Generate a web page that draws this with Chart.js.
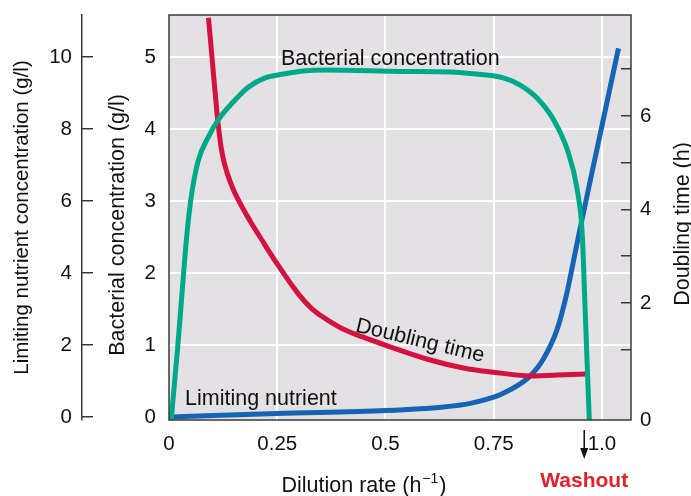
<!DOCTYPE html>
<html>
<head>
<meta charset="utf-8">
<script src="https://cdn.jsdelivr.net/npm/chart.js@4.4.0/dist/chart.umd.min.js"></script>
<style>
    html, body { margin: 0; padding: 0; background: #fff; }
    #wrap { width: 691px; height: 496px; }
</style>
</head>
<body>
<div id="wrap"><canvas id="chemostat" width="691" height="496"></canvas></div>
<script>
// Dilution rate (1/h) for each curve
const bacteriaRate = [0.005, 0.021, 0.033, 0.040, 0.050, 0.067, 0.091, 0.114, 0.146, 0.183, 0.222, 0.261, 0.315, 0.361, 0.534, 0.65, 0.695, 0.772, 0.811, 0.85, 0.888, 0.92, 0.943, 0.9545, 0.960, 0.9657, 0.9707];
const bacteriaConc = [-0.04, 1.03, 1.94, 2.45, 3.0, 3.55, 3.89, 4.13, 4.36, 4.58, 4.71, 4.76, 4.81, 4.82, 4.80, 4.79, 4.77, 4.71, 4.61, 4.43, 4.13, 3.71, 3.15, 2.53, 1.67, 0.75, -0.04];

const doublingRate = [0.0912, 0.0998, 0.1067, 0.1143, 0.1259, 0.146, 0.169, 0.1876, 0.2109, 0.2503, 0.2991, 0.3308, 0.3654, 0.407, 0.4486, 0.4994, 0.6034, 0.6796, 0.7489, 0.8344, 0.8968, 0.9637];
const doublingTime = [8.10, 7.20, 6.49, 5.76, 5.06, 4.48, 4.05, 3.75, 3.40, 2.83, 2.19, 1.87, 1.64, 1.42, 1.27, 1.10, 0.78, 0.61, 0.52, 0.44, 0.46, 0.48];

const nutrientRate = [0.003, 0.25, 0.50, 0.634, 0.696, 0.75, 0.772, 0.811, 0.834, 0.864, 0.896, 0.919, 0.934, 0.945, 0.99, 1.038];
const nutrientConc = [0, 0.10, 0.18, 0.28, 0.38, 0.55, 0.66, 0.92, 1.14, 1.60, 2.42, 3.45, 4.32, 4.98, 7.53, 10.24];

const rateTicks = [0, 0.25, 0.5, 0.75, 1.0];
const rateLabels = ["0", "0.25", "0.5", "0.75", "1.0"];
const bacteriaTicks = [0, 1, 2, 3, 4, 5];
const nutrientTicks = [0, 2, 4, 6, 8, 10];
const doublingTicks = [1, 2, 3, 4, 5, 6, 7];
const washoutRate = 0.959;

const FONT = "'Liberation Sans', Arial, Helvetica, sans-serif";
const TICK_SIZE = 20.5;
const TEXT_SIZE = 21.5;
const pairs = (xs, ys) => xs.map((x, i) => ({ x: x, y: ys[i] }));
const noPad = s => { s.paddingTop = 0; s.paddingBottom = 0; s.paddingLeft = 0; s.paddingRight = 0; };

function upText(ctx, text, x, y) {
    ctx.save();
    ctx.translate(x, y);
    ctx.rotate(-Math.PI / 2);
    ctx.textAlign = "center";
    ctx.textBaseline = "middle";
    ctx.fillText(text, 0, 0);
    ctx.restore();
}

// gray panel behind the grid, frame and annotations on top
const panel = {
    id: "panel",
    beforeDraw(chart) {
        const a = chart.chartArea, ctx = chart.ctx;
        ctx.save();
        ctx.fillStyle = "#e3e1e3";
        ctx.fillRect(a.left, a.top, a.right - a.left, a.bottom - a.top);
        ctx.restore();
    },
    afterDatasetsDraw(chart) {
        const a = chart.chartArea, ctx = chart.ctx;
        ctx.save();
        ctx.strokeStyle = "#3a3a3a";
        ctx.lineWidth = 1.5;
        ctx.strokeRect(a.left, a.top, a.right - a.left, a.bottom - a.top);

        ctx.fillStyle = "#111";
        ctx.font = TEXT_SIZE + "px " + FONT;
        ctx.textBaseline = "alphabetic";
        ctx.textAlign = "left";
        ctx.fillText("Bacterial concentration", 281, 65);
        ctx.fillText("Limiting nutrient", 185, 405);

        ctx.save();
        ctx.translate(420, 341);
        ctx.rotate(13.5 * Math.PI / 180);
        ctx.textAlign = "center";
        ctx.textBaseline = "middle";
        ctx.fillText("Doubling time", 0, 0);
        ctx.restore();

        // vertical axis titles, reading upwards
        upText(ctx, "Bacterial concentration (g/l)", 118, 225);
        upText(ctx, "Doubling time (h)", 683, 224);

        // x axis title with a raised exponent
        const main = "Dilution rate (h", sup = "\u22121", tail = ")";
        const supFont = "14px " + FONT, mainFont = TEXT_SIZE + "px " + FONT;
        ctx.font = mainFont;
        const wMain = ctx.measureText(main).width, wTail = ctx.measureText(tail).width;
        ctx.font = supFont;
        const wSup = ctx.measureText(sup).width;
        let tx = 364 - (wMain + wSup + wTail + 2) / 2;
        const base = 492;
        ctx.textAlign = "left";
        ctx.textBaseline = "alphabetic";
        ctx.font = mainFont;
        ctx.fillText(main, tx, base);
        tx += wMain + 1;
        ctx.font = supFont;
        ctx.fillText(sup, tx, base - 9);
        tx += wSup + 1;
        ctx.font = mainFont;
        ctx.fillText(tail, tx, base);

        // washout marker
        const wx = chart.scales.x.getPixelForValue(washoutRate);
        ctx.strokeStyle = "#111";
        ctx.lineWidth = 1.5;
        ctx.beginPath();
        ctx.moveTo(wx, 430);
        ctx.lineTo(wx, 452);
        ctx.stroke();
        ctx.beginPath();
        ctx.moveTo(wx - 4, 448);
        ctx.lineTo(wx, 459);
        ctx.lineTo(wx + 4, 448);
        ctx.closePath();
        ctx.fillStyle = "#111";
        ctx.fill();

        ctx.fillStyle = "#e8202a";
        ctx.font = "bold 21px " + FONT;
        ctx.textAlign = "center";
        ctx.textBaseline = "middle";
        ctx.fillText("Washout", wx, 481);
        ctx.restore();
    }
};

const ctx = document.getElementById("chemostat").getContext("2d");
new Chart(ctx, {
    type: "line",
    data: {
        datasets: [{
            label: "Bacterial concentration",
            data: pairs(bacteriaRate, bacteriaConc),
            yAxisID: "yBact",
            borderColor: "#00a98a",
            borderWidth: 5,
            cubicInterpolationMode: "monotone",
            pointRadius: 0
        }, {
            label: "Doubling time",
            data: pairs(doublingRate, doublingTime),
            yAxisID: "yTime",
            borderColor: "#d3123f",
            borderWidth: 5,
            tension: 0.4,
            pointRadius: 0
        }, {
            label: "Limiting nutrient",
            data: pairs(nutrientRate, nutrientConc),
            yAxisID: "yNutr",
            borderColor: "#1565b4",
            borderWidth: 5,
            cubicInterpolationMode: "monotone",
            pointRadius: 0
        }]
    },
    options: {
        responsive: false,
        animation: false,
        layout: { padding: { top: 15, right: 0, left: 0, bottom: 0 } },
        plugins: { legend: { display: false }, tooltip: { enabled: false } },
        scales: {
            x: {
                type: "linear",
                min: 0,
                max: 1.067,
                afterBuildTicks: s => { s.ticks = rateTicks.map(v => ({ value: v })); },
                afterFit: s => { s.height = 76; noPad(s); },
                ticks: {
                    color: "#111",
                    font: { size: TICK_SIZE, family: FONT },
                    padding: 12,
                    maxRotation: 0,
                    callback: (v) => rateLabels[rateTicks.indexOf(v)]
                },
                grid: {
                    drawTicks: false,
                    color: c => (c.tick && c.tick.value === 0) ? "rgba(0,0,0,0)" : "#ffffff",
                    lineWidth: 2
                },
                border: { display: false }
            },
            yBact: {
                position: "left",
                weight: 0,
                min: -0.042,
                max: 5.583,
                afterBuildTicks: s => { s.ticks = bacteriaTicks.map(v => ({ value: v })); },
                afterFit: s => { s.width = 87; noPad(s); },
                ticks: { color: "#111", font: { size: TICK_SIZE, family: FONT }, padding: 13 },
                grid: {
                    drawTicks: false,
                    color: c => (c.tick && c.tick.value === 0) ? "rgba(0,0,0,0)" : "#ffffff",
                    lineWidth: 2
                },
                border: { display: false }
            },
            yNutr: {
                position: "left",
                weight: 1,
                min: -0.083,
                max: 11.167,
                afterBuildTicks: s => { s.ticks = nutrientTicks.map(v => ({ value: v })); },
                afterFit: s => { s.width = 82; noPad(s); },
                ticks: { color: "#111", font: { size: TICK_SIZE, family: FONT }, padding: 21 },
                grid: {
                    drawOnChartArea: false,
                    drawTicks: true,
                    tickLength: -11,
                    color: "#3a3a3a",
                    lineWidth: 1.5
                },
                border: { display: true, color: "#3a3a3a", width: 1.5 },
                title: {
                    display: true,
                    text: "Limiting nutrient concentration (g/l)",
                    color: "#111",
                    font: { size: 20.5, family: FONT },
                    padding: { top: 10, bottom: 0 }
                }
            },
            yTime: {
                position: "right",
                min: -0.503,
                max: 8.16,
                afterBuildTicks: s => {
                    s.ticks = [{ value: -0.503 }].concat(doublingTicks.map(v => ({ value: v })));
                },
                afterFit: s => { s.width = 60; noPad(s); },
                ticks: {
                    color: "#111",
                    font: { size: TICK_SIZE, family: FONT },
                    padding: 19,
                    callback: (v) => v < 0 ? "0" : (v % 2 === 0 ? String(v) : "")
                },
                grid: {
                    drawOnChartArea: false,
                    drawTicks: true,
                    tickLength: -10,
                    color: c => (c.tick && c.tick.value < 0) ? "rgba(0,0,0,0)" : "#3a3a3a",
                    lineWidth: 1.5
                },
                border: { display: false }
            }
        }
    },
    plugins: [panel]
});
</script>
</body>
</html>
